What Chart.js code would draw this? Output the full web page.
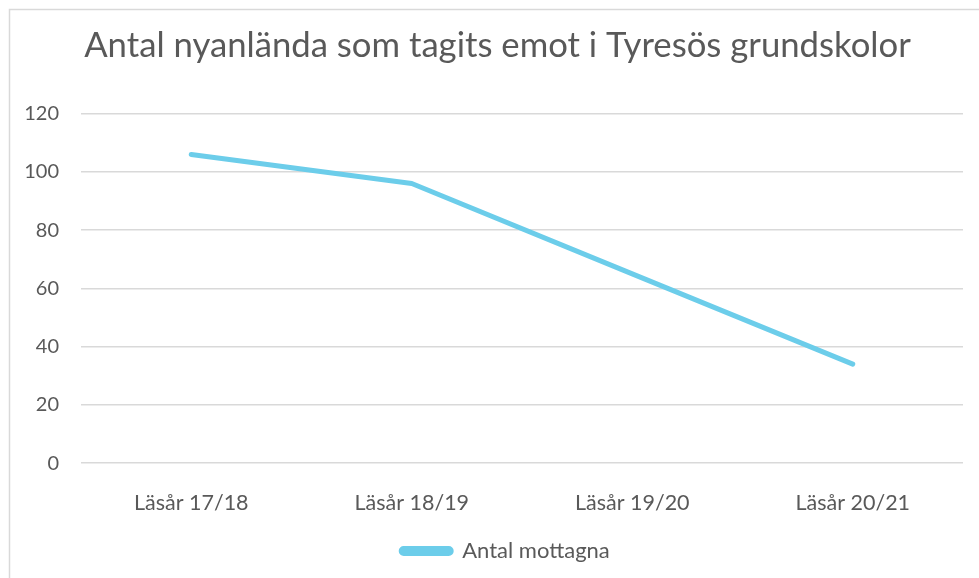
<!DOCTYPE html>
<html>
<head>
<meta charset="utf-8">
<script src="https://cdn.jsdelivr.net/npm/chart.js@4.4.0/dist/chart.umd.min.js"></script>
<style>
  body { margin: 0; background: #fff; }
  canvas { display: block; }
</style>
</head>
<body>
<canvas id="myChart" width="979" height="578"></canvas>
<script>
// data
var categories = ["Läsår 17/18", "Läsår 18/19", "Läsår 19/20", "Läsår 20/21"];
var mottagna = [106, 96, 65, 34];
var seriesName = "Antal mottagna";
var chartTitle = "Antal nyanlända som tagits emot i Tyresös grundskolor";

var textColor = "#595959";
var gridColor = "#d9d9d9";
var lineColor = "#6ccdea";

// thin frame like the Excel chart border
var framePlugin = {
    id: "frame",
    beforeDraw: function(chart){
        var c = chart.ctx;
        c.save();
        c.fillStyle = "#fff";
        c.fillRect(0, 0, chart.width, chart.height);
        c.strokeStyle = gridColor;
        c.lineWidth = 1.5;
        c.strokeRect(9.5, 9.5, chart.width + 20, chart.height + 20);
        c.restore();
    },
    // title and legend sit a bit off the default spots in the original
    afterLayout: function(chart){
        chart.legend.left += 19;
        chart.legend.right += 19;
        chart.legend.top -= 4;
        chart.legend.bottom -= 4;
        chart.titleBlock.left += 11;
        chart.titleBlock.right += 11;
    }
};

var ctx = document.getElementById('myChart').getContext('2d');
var myChart = new Chart(ctx, {
    type: 'line',
    data: {
        labels: categories,
        datasets: [{
            label: seriesName,
            data: mottagna,
            borderColor: lineColor,
            backgroundColor: lineColor,
            borderWidth: 5,
            borderCapStyle: 'round',
            borderJoinStyle: 'round',
            pointRadius: 0,
            tension: 0
        }]
    },
    options: {
        responsive: false,
        animation: false,
        layout: { padding: { left: 10, right: 16, top: 10, bottom: 2 } },
        plugins: {
            title: {
                display: true,
                text: chartTitle,
                color: textColor,
                font: { family: "Lato", size: 34.7, weight: 'normal' },
                padding: { top: 15, bottom: 47 }
            },
            legend: {
                position: 'bottom',
                labels: {
                    color: textColor,
                    font: { family: "Lato", size: 22 },
                    boxWidth: 50,
                    boxHeight: 5,
                    useBorderRadius: true,
                    borderRadius: 2.5,
                    padding: 10
                }
            },
            tooltip: { enabled: false }
        },
        scales: {
            x: {
                offset: true,
                grid: { display: false },
                border: { display: false },
                ticks: {
                    color: textColor,
                    font: { family: "Lato", size: 21.5 },
                    padding: 18.5,
                    maxRotation: 0
                }
            },
            y: {
                min: 0,
                max: 120,
                grid: { color: gridColor, lineWidth: 1.5, drawTicks: false },
                border: { display: false },
                ticks: {
                    stepSize: 20,
                    color: textColor,
                    font: { family: "Lato", size: 20 },
                    padding: 22
                },
                afterFit: function(scale){ scale.width = 71; }
            }
        }
    },
    plugins: [framePlugin]
});
</script>
</body>
</html>
